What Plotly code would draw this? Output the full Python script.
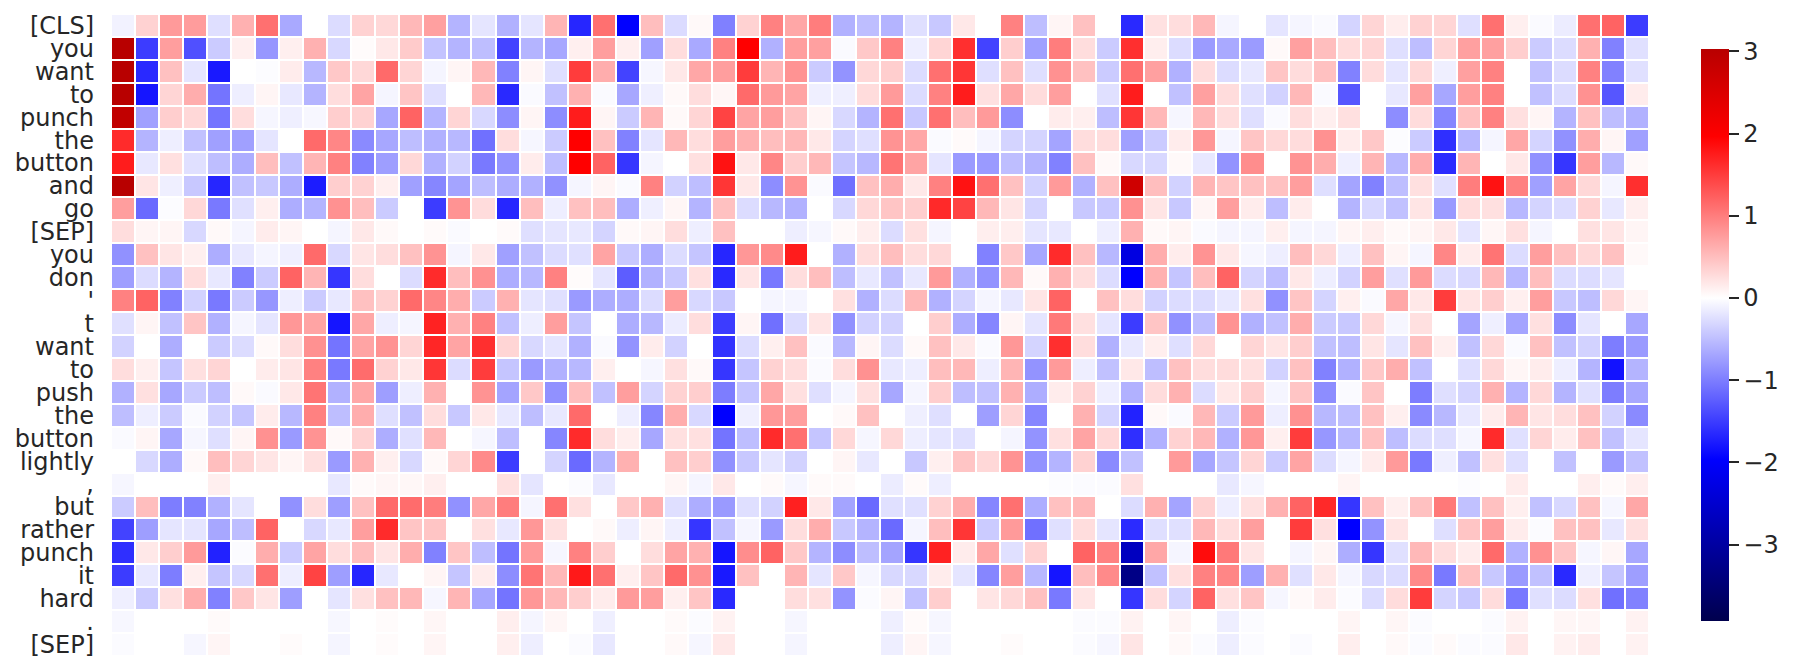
import plotly.graph_objects as go

tokens = ["[CLS]", "you", "want", "to", "punch", "the", "button", "and", "go", "[SEP]",
          "you", "don", "'", "t", "want", "to", "push", "the", "button", "lightly",
          ",", "but", "rather", "punch", "it", "hard", ".", "[SEP]"]

row_cls = [-.1, .35, .78, .76, -.25, .6, 1.1, -.66, 0, -.27, .35, .3, .55, .73, -.58, -.2, -.6, -.2, .57, -1.67, 1.1,
           -1.96, .5, -.28, .05, -.98, .35, .97, .68, 1.0, -.6, -.5, -.58, -.25, -.42, .18, 0, .97, -.5, .08, .48, 0, -1.65,
           .23, .26, .55, -.08, 0, -.2, -.08, -.04, -.33, .32, .14, .35, .32, -.25, 1.1, .12, -.04, -.15, 1.1, 1.2, -1.5]
row_you_a = [3.03, -1.5, .75, -1.35, -.4, .12, -.8, .12, .6, -.3, .03, .18, .4, -.46, -.58, -.5, -1.45, -.58, -.68, .12, .75,
             .12, -.73, .26, -.66, .97, 1.97, -.6, .75, .73, -.04, .42, .97, -.13, .32, 1.6, -1.45, .38, -.73, 1.0, .26, -.4, 1.6,
             .13, -.27, -.77, -.66, -.77, .05, .73, .5, .27, .32, -.25, -.5, .32, .73, .73, .38, -.4, -.27, .6, -.97, -.24]
row_want_a = [3.03, -1.65, .48, -.2, -1.77, 0, -.02, .15, -.55, .42, .3, 1.15, .32, -.08, .08, .55, -.97, .08, -.25, 1.5, .63,
              -1.45, -.07, .18, .68, .75, 1.5, .57, .83, -.4, -.83, .3, .38, -.27, 1.1, 1.55, -.25, .48, -.25, .85, .48, -.4, 1.1,
              .73, -.6, .27, -.27, -.18, .45, .27, .48, -.97, .27, -.2, .3, -.12, .73, .97, 0, -.48, -.27, .97, -.97, -.24]
row_to_a = [3.03, -1.8, .32, .63, -1.07, -.13, .08, -.18, -.58, .26, .7, -.08, .45, -.25, 0, .55, -1.65, -.04, -.48, .6, -.04,
            -.68, -.12, .05, .26, .07, 1.15, .78, .7, -.12, -.12, .27, .78, -.27, .97, 1.75, .24, .68, .27, .75, 0, -.24, 1.75,
            0, -.48, .73, .27, -.24, -.35, .55, -.04, -1.3, 0, -.18, .73, -.68, .75, .97, 0, -.48, -.27, .85, -1.3, .15]
row_punch_a = [2.9, -.73, .38, .3, -1.07, .26, -.07, -.12, -.06, .38, .35, -.68, 1.2, -.58, .32, -.3, -.88, .08, -.88, 1.75, .08,
               -.4, .57, .05, .32, 1.45, .7, .75, .48, .08, -.3, -.58, 1.1, -.42, 1.1, .5, .78, -.88, 0, .15, .12, -.5, 1.55,
               .55, -.07, .55, .26, -.25, -.04, .26, .12, .24, 0, -.88, .27, -.93, .48, .97, .24, .08, -.58, .48, -.5, -.6]
row_the_a = [1.63, -.58, -.13, -.48, -.73, -.73, -.2, 0, 1.15, .93, -.9, -.68, -.5, -.6, -.55, -1.1, .26, -.07, -.4, 1.97, .48,
             -.97, -.2, .55, .26, .75, .6, .5, .55, .18, -.33, -.25, .83, .68, -.04, .04, -.08, -.33, -.33, -.7, .26, .26, -.73,
             -.4, .15, .8, -.08, .45, .3, .27, .85, .15, .42, -.02, -.4, -1.6, -.55, -.08, .68, -.33, -.85, .63, .08, -.73]
row_button_a = [1.75, -.18, .24, -.24, -.5, -.63, .5, -.48, .57, .97, -.97, -.75, .3, -.6, -.35, -1.03, -.83, .15, -.5, 1.97, 1.2,
                -1.55, -.08, 0, .24, 1.83, .18, .93, .38, .55, -.45, -.55, 1.07, .7, -.2, -.78, -.78, -.5, -.58, -.97, .48, .05, -.3,
                -.3, .05, -.18, -.83, .88, 0, .83, .63, -.12, .57, -.55, .63, -1.63, .57, 0, .18, -.85, -1.55, .75, -.55, .05]
row_and = [3.03, .2, -.12, -.42, -1.67, -.48, -.42, -.63, -1.75, .38, .35, .12, -.73, -.93, -.7, -.5, -.63, -.6, -.85, -.08, .08,
           -.04, .97, -.35, -.5, 1.55, .18, -.88, .83, -.04, -1.1, .48, .63, .18, .97, 1.83, 1.1, .48, -.35, .78, -.6, .48, 2.69,
           .5, -.35, .57, .45, .48, .48, .75, -.25, -.7, -.97, -.5, .24, -.24, 1.0, 1.83, .97, -.73, .7, .3, -.08, 1.6]
row_go = [.75, -1.15, -.02, .3, -1.03, -.24, .12, -.63, -.58, .85, .5, -.4, 0, -1.5, .83, .27, -1.67, .5, -.13, .48, .5,
          -.63, -.12, .07, -.58, .48, -.27, -.55, -.6, 0, -.3, .3, .45, .38, 1.65, 1.45, .55, .2, -.33, 0, -.42, -.42, .85,
          .2, -.42, .08, .75, .15, -.5, .15, 0, -.58, -.3, -.48, .2, -.78, .26, .24, -.55, -.33, -.27, .35, -.18, .12]
row_sep_a = [.26, .08, .08, -.3, .05, -.08, .15, .08, 0, -.08, .18, .05, 0, .04, -.04, 0, .04, -.25, -.2, -.18, -.33,
             .05, .08, .26, -.13, .48, 0, 0, -.13, -.07, .05, .13, -.27, .24, -.08, 0, .13, .13, -.2, -.18, 0, -.13, .6,
             .05, .08, -.04, -.08, -.08, .12, -.08, -.08, .08, .13, .05, .08, .18, -.2, .07, .24, -.08, 0, .24, .2, .08]
row_you_b = [-.85, .48, .2, .12, -.63, -.18, -.08, -.12, 1.15, -.3, .2, .26, .48, .83, -.08, .18, -.73, -.48, -.27, -.24, .7,
             -.42, -.63, -.27, -.45, -1.67, .8, .9, 1.75, 0, -.6, .26, .5, .26, .3, 0, -.97, .42, -.68, 1.63, .48, -.55, -2.3,
             .63, .15, .83, .18, -.07, -.13, .5, .3, -.13, .48, .08, -.08, .93, .15, 1.07, -.27, .75, .48, .3, .48, .05]
row_don = [-.75, -.27, -.58, .26, -.18, -.97, -.4, 1.2, .57, -1.55, .26, 0, -.27, 1.63, .5, .85, -.63, -.55, .97, .03, -.2,
           -1.25, -.6, -.42, .24, -1.65, .2, -1.03, .26, .5, -.5, -.18, -.48, -.18, .78, -.6, -.83, .55, .05, .6, .26, -.27, -1.97,
           .6, -.45, .5, 1.2, -.33, -.5, .18, -.13, -.35, .75, -.24, .78, -.27, -.3, .55, -.55, .5, -.27, -.27, -.2, 0]
row_apos = [.97, 1.2, -.97, -.35, -1.03, -.4, -.8, -.13, -.4, -.18, .48, .35, 1.15, .93, .63, -.4, .6, -.2, -.24, -.78, -.63,
            -.63, -.27, .75, -.3, -.42, 0, -.08, -.08, 0, .24, -.6, -.27, .55, -.6, -.33, -.08, -.18, .2, 1.2, 0, .48, .26,
            -.35, -.27, -.27, -.18, .24, -.85, .45, -.33, .12, -.04, .68, .18, 1.5, .2, .38, .12, .75, -.42, -.5, .3, .08]
row_t = [-.24, .08, -.48, .45, -.6, -.08, -.2, .8, .7, -1.8, .68, -.13, -.08, 1.7, .6, .97, -.48, -.13, .75, -.45, 0,
         -.63, -.55, -.15, .26, -1.5, .08, -1.1, -.27, .2, -.85, -.35, -.35, 0, .38, -.63, -.93, .08, -.2, 1.03, .24, -.2, -1.5,
         .45, -.85, -.5, .83, -.6, -.48, .63, -.4, -.42, .3, -.07, .24, 0, -.7, -.12, -.7, .24, -.88, -.2, 0, -.68]
row_want_b = [-.35, 0, -.63, 0, -.4, -.27, .05, .26, .85, -1.07, .7, .83, .32, 1.67, .7, 1.6, .32, -.3, -.2, -.6, -.04,
              -.83, .15, -.35, 0, -1.58, -.27, .12, .48, -.04, -.55, .08, -.27, .05, .48, .18, -.04, .8, -.33, 1.6, .26, -.6, -.18,
              .13, -.25, .3, 0, .32, .2, .38, -.48, -.5, .2, -.2, .48, .12, -.48, .3, -.04, .48, -.48, -.35, -1.0, -.78]
row_to_b = [.26, .12, -.45, .24, .32, 0, .15, .2, .97, -1.03, 1.13, .35, .18, 1.55, -.27, 1.5, -.45, -.78, -.6, -.55, .12,
            0, -.07, .24, .05, -1.55, -.45, .35, .26, -.04, .26, .85, -.18, -.13, .5, .55, -.13, .57, -.83, .78, -.13, -.48, .18,
            -.5, .48, .26, .27, .24, -.35, .48, -.97, -.6, .42, .63, -.48, 0, -.25, .3, .07, .15, -.13, -.58, -1.83, -.58]
row_push = [-.6, .24, -.68, -.4, -.5, .05, -.04, .18, 1.07, -.6, .68, -.75, -.13, .6, 0, .83, -.7, .42, -.85, .5, -.48,
            .75, -.33, .35, .38, -1.0, -.45, .68, .24, -.25, -.08, .24, -.68, -.08, .38, -.5, -.48, .6, -.63, .15, .35, -.13, -.6,
            .27, .6, -.27, .18, .38, -.08, .45, -.88, -.04, .45, 0, -1.0, -.25, -.33, .6, -.58, .3, -.58, -.24, -1.0, -.68]
row_the_b = [-.5, -.13, -.4, -.04, -.35, -.45, .15, -.55, .97, -.5, .63, -.25, -.48, .26, -.42, .18, -.18, -.5, -.18, 1.15, 0,
             -.13, -.93, .63, -.3, -1.97, -.12, .8, .75, 0, .05, .48, 0, -.12, -.25, 0, -.75, .32, -.93, 0, .6, -.33, -1.7,
             .05, -.04, .55, -.4, .78, -.13, .85, -.55, -.5, .48, .12, -.9, -.55, -.18, .15, .57, .2, .26, .48, -.35, -.9]
row_button_b = [-.04, .08, -.68, -.07, -.25, .08, .85, -.78, .83, .05, .35, -.63, -.24, .55, 0, -.07, -.5, 0, -.93, 1.63, .26,
                .13, -.68, .24, .24, -1.07, -.5, 1.63, 1.1, -.45, .3, -.07, .3, -.13, -.2, -.24, 0, -.08, -.83, .24, .7, .3, -1.6,
                -.6, .35, .55, -.6, .8, .12, 1.5, -.8, -.55, .48, -.5, -.27, -.25, -.07, 1.63, -.24, .32, .15, .48, -.48, -.2]
row_lightly = [0, -.3, -.63, .05, .5, .32, .2, .08, .24, -.78, .6, .12, -.3, .05, .32, .9, -1.5, 0, -.33, -1.15, -.58,
               .6, 0, .48, .38, -.85, -.42, -.2, -.35, 0, .08, -.18, 0, -.42, .12, .45, .3, .83, -.83, -.58, .35, -.9, -.48,
               0, .78, -.68, -.45, .32, -.4, .7, -.27, -.08, .15, .78, -1.03, -.12, -.48, .24, -.25, 0, -.48, 0, -.78, -.48]
row_comma = [-.07, 0, 0, 0, .12, 0, 0, 0, 0, -.18, .04, .07, .06, .12, 0, 0, .24, -.2, 0, -.03, -.18,
             0, 0, .07, -.08, .18, 0, .04, -.07, .04, .04, 0, -.15, .04, -.13, 0, 0, 0, 0, -.02, -.03, -.03, .24,
             0, 0, 0, -.18, -.07, 0, 0, 0, .08, 0, 0, 0, 0, -.02, 0, .15, 0, 0, .13, .04, .13]
row_but = [-.4, .5, -1.0, -.97, -.6, -.2, 0, -.85, .26, -.75, .48, 1.15, 1.13, 1.0, -.85, .68, 1.0, -.08, 1.1, .24, 0,
           .42, .6, -.25, -.63, -.78, -.25, -.35, 1.72, .18, -.7, -1.15, -.24, -.24, .35, .63, -.93, 1.1, -.63, .48, .55, 0, -.27,
           .6, -.7, .35, -.13, .24, .6, 1.2, 1.65, -1.55, .48, .12, .48, 1.03, -.48, .48, .12, -.48, -.3, .48, -.07, .68]
row_rather = [-1.45, -.75, -.2, -.2, -.68, -.5, 1.2, 0, -.3, -.18, .75, 1.63, .45, .45, 0, .24, -.18, .8, .24, 0, .05,
              -.13, .08, -.12, -1.55, -.48, -.08, -.78, .26, .63, -.42, -.58, -1.15, -.08, .5, 1.55, -.4, .78, -1.1, -.24, .26, -.2, -1.63,
              -.25, -.24, .55, .26, .75, 0, 1.5, .24, -1.97, -.83, .2, 0, -.25, .45, .75, .15, -.03, .48, .48, -.18, .24]
row_punch_b = [-1.6, .18, .38, .78, -1.7, -.03, .63, -.4, .7, .26, .5, .2, .63, -.97, .45, -.5, -1.07, .78, -.07, .97, .38,
               0, .26, .7, .6, -1.8, .88, 1.2, .42, -.58, -.88, -.5, -.7, -1.55, 1.7, .15, .68, -.24, .35, 0, 1.2, .97, -2.66,
               .68, -.08, 1.87, 1.03, .2, 0, -.08, .08, -.63, -1.55, -.24, .55, .26, .15, 1.15, -.6, .85, .45, -.07, .07, -.68]
row_it = [-1.5, -.18, -1.0, .12, -.45, -.3, 1.1, -.13, 1.45, -.75, -1.67, -.18, 0, .08, -.45, .15, -.88, 1.07, .55, 1.77, 1.1,
          .12, .45, 1.15, .85, -1.77, .48, 0, .57, -.2, .42, -.07, -.3, -.3, .15, -.2, -.93, .75, -.55, -1.8, .5, .9, -3.3,
          -.48, .24, .97, .93, -.75, .6, -.24, .18, -.08, -.3, -.27, .9, -1.03, .48, -.42, -.78, -.48, -1.65, -.12, -.45, -.75]
row_hard = [-.12, -.4, .24, .63, -.97, .42, .2, -.75, 0, -.2, .24, .48, .55, -.07, .57, -.68, -1.07, .8, .55, .38, .15,
            .78, .75, .12, .45, -1.65, 0, 0, .26, .24, -.83, -.03, .08, -.48, .38, 0, .2, .3, .48, -1.03, .2, 0, -1.55,
            .26, -.33, 1.2, .24, .45, -.07, .05, .15, -.03, -.27, .27, 1.5, -.33, -.42, .27, -1.03, -.24, -.27, .24, -1.1, -.97]
row_period = [-.06, 0, 0, 0, .04, 0, 0, 0, 0, -.06, 0, .03, 0, .07, 0, 0, .13, -.08, .07, 0, -.12,
              0, 0, .04, -.03, .1, 0, 0, -.07, 0, 0, 0, -.12, .04, -.07, 0, 0, 0, 0, 0, -.03, -.03, .1,
              0, .08, 0, -.13, -.03, 0, 0, 0, .08, 0, .07, -.03, 0, 0, -.03, .1, 0, .07, .07, 0, .1]
row_sep_b = [-.03, 0, 0, -.07, .08, 0, 0, .03, 0, -.08, 0, .03, 0, .08, 0, 0, .12, -.13, 0, -.03, -.18,
             0, 0, .05, -.07, .18, 0, 0, -.08, 0, 0, 0, -.13, .08, -.07, 0, 0, .03, 0, 0, -.03, -.07, .2,
             0, .05, -.03, -.13, -.03, 0, -.03, 0, .13, 0, .05, -.03, .04, -.03, -.03, .18, 0, .1, .15, 0, .1]

z = [row_cls, row_you_a, row_want_a, row_to_a, row_punch_a, row_the_a, row_button_a, row_and, row_go,
     row_sep_a, row_you_b, row_don, row_apos, row_t, row_want_b, row_to_b, row_push, row_the_b,
     row_button_b, row_lightly, row_comma, row_but, row_rather, row_punch_b, row_it, row_hard,
     row_period, row_sep_b]

# seismic, centred on 0, cut off at the data max like seaborn's center=0
z_min, z_max = -3.93, 3.03
def stop(v):
    return (v - z_min) / (z_max - z_min)

seismic = [
    [0.0, "#00004d"],
    [stop(-1.965), "#0000ff"],
    [stop(0), "#ffffff"],
    [stop(1.965), "#ff0000"],
    [1.0, "#b80000"],
]

fig = go.Figure(
    go.Heatmap(
        z=z,
        colorscale=seismic,
        zmin=z_min,
        zmax=z_max,
        xgap=2,
        ygap=2,
        colorbar={
            "xref": "container",
            "yref": "container",
            "x": 1701 / 1793,
            "xanchor": "left",
            "y": (671 - 621 - 28) / 671,
            "yanchor": "bottom",
            "lenmode": "pixels",
            "len": 572,
            "thickness": 28,
            "xpad": 0,
            "ypad": 0,
            "outlinewidth": 0,
            "ticks": "outside",
            "ticklen": 10,
            "tickwidth": 1.5,
            "tickcolor": "#262626",
            "tickvals": [-3, -2, -1, 0, 1, 2, 3],
            "tickprefix": "\u2009",
            "tickfont": {"family": "DejaVu Sans", "size": 24, "color": "#262626"},
        },
    )
)

fig.update_xaxes(visible=False, range=[-0.5, 63.5])
fig.update_yaxes(
    range=[27.5, -0.5],
    tickvals=list(range(len(tokens))),
    ticktext=tokens,
    ticks="",
    ticklabelstandoff=16,
    showgrid=False,
    zeroline=False,
    showline=False,
    tickfont={"family": "DejaVu Sans", "size": 24, "color": "#262626"},
)
fig.update_layout(
    width=1793,
    height=671,
    margin={"l": 111, "r": 144, "t": 13, "b": 13},
    plot_bgcolor="white",
    paper_bgcolor="white",
)

fig.write_html(
    "out.html",
    config={"displayModeBar": False},
    post_script="document.body.style.margin='0';",
)
